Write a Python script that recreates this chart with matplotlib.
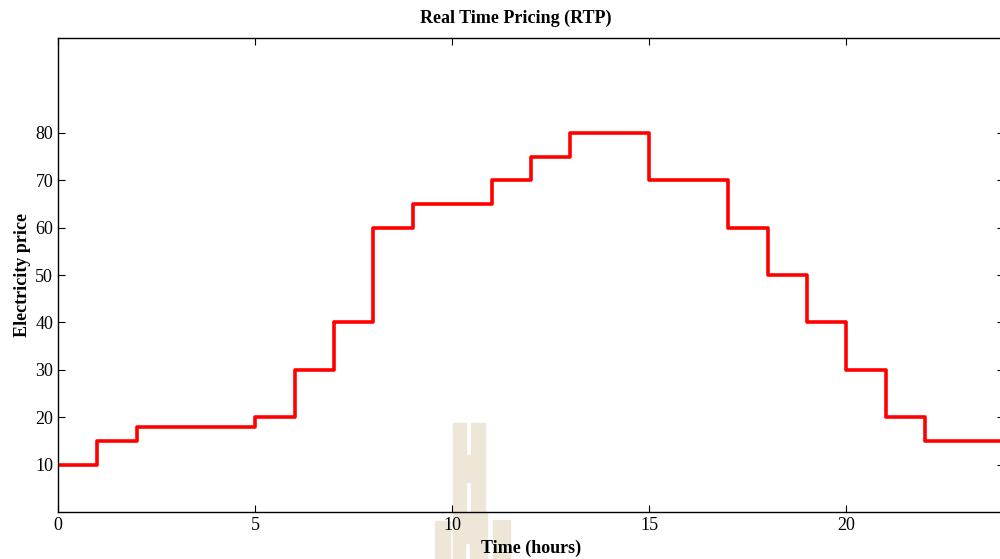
import matplotlib
matplotlib.use('Agg')
import matplotlib.pyplot as plt
from matplotlib.patches import Rectangle

plt.rcParams['font.family'] = ['Liberation Serif', 'DejaVu Serif']

# 数据：每小时电价（阶梯）
hours = list(range(25))
price = [10, 15, 18, 18, 18, 20, 30, 40, 60, 65, 65, 70, 75, 80, 80,
         70, 70, 60, 50, 40, 30, 20, 15, 15]
xticks = [0, 5, 10, 15, 20]
yticks = [10, 20, 30, 40, 50, 60, 70, 80]

W, H = 1000, 559
fig = plt.figure(figsize=(W / 100, H / 100), dpi=100)

# 背景水印（浅米色）
wm = '#EEE6D7'
for x0, y0, w, h in [(453, 423, 13, 89), (471, 423, 14, 89), (466, 455, 5, 27),
                     (453, 512, 12, 47), (470, 512, 17, 47), (465, 512, 5, 31),
                     (435, 521, 15, 38), (493, 520, 17, 39)]:
    fig.patches.append(Rectangle((x0 / W, 1 - (y0 + h) / H), w / W, h / H,
                                 transform=fig.transFigure, color=wm, zorder=-5))

ax = fig.add_axes([58 / W, 47 / H, 946 / W, 474 / H])
ax.set_zorder(2)
ax.patch.set_alpha(0)
ax.step(hours, price + [price[-1]], where='post', color='red', lw=2.6)

ax.set_xlim(0, 24)
ax.set_ylim(0, 100)
ax.set_xticks(xticks)
ax.set_yticks(yticks)
ax.tick_params(direction='in', top=True, right=True, length=5, labelsize=13)
for s in ax.spines.values():
    s.set_linewidth(1.0)

ax.set_xlabel('Time (hours)', fontsize=13, fontweight='bold', labelpad=4)
ax.set_ylabel('Electricity price', fontsize=13, fontweight='bold', labelpad=3)
ax.set_title('Real Time Pricing (RTP)', fontsize=13, fontweight='bold', pad=11, x=0.484)

fig.savefig('out.png', dpi=100)
